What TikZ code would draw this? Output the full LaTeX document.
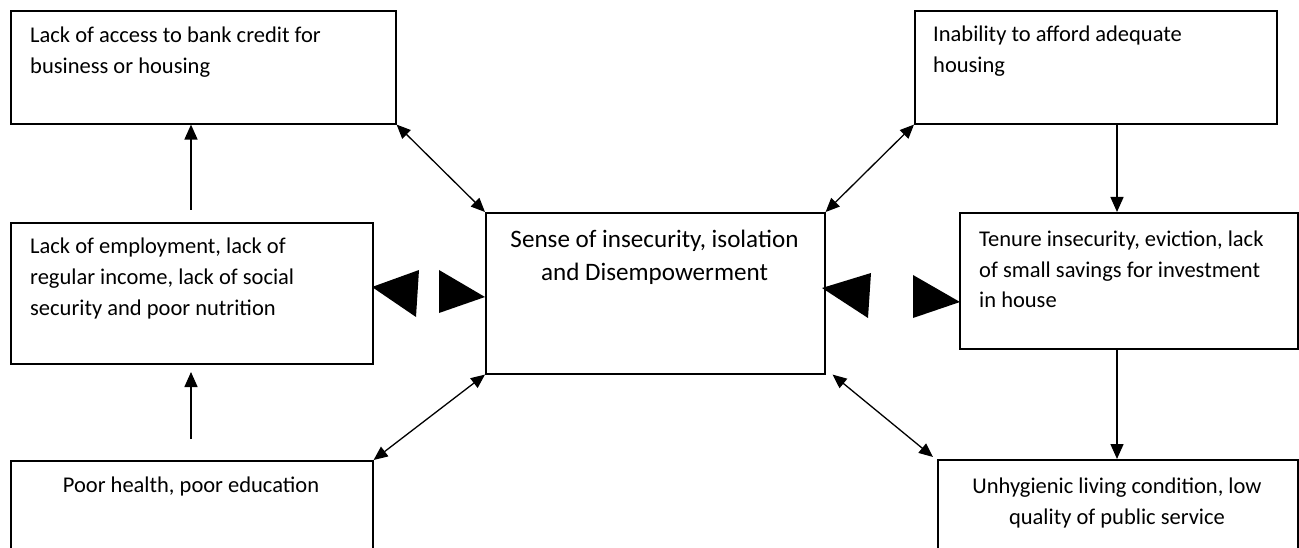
\documentclass[tikz,border=0pt]{standalone}
\usepackage{fontspec}
\setmainfont{Carlito}
\usetikzlibrary{arrows.meta,calc}
\begin{document}
\begin{tikzpicture}[x=1pt,y=-1pt,
  box/.style={draw,line width=1.6pt,inner sep=0pt,anchor=north west},
  txt/.style={inner sep=0pt,font=\fontsize{22.5}{31}\selectfont},
  bigtxt/.style={inner sep=0pt,font=\fontsize{25.1}{33}\selectfont},
  arr/.style={line width=1.5pt,-{Triangle[length=15pt,width=13pt]}},
  darr/.style={line width=1.3pt,{Triangle[length=14pt,width=12pt]}-{Triangle[length=14pt,width=12pt]}},
  wedge/.style={fill=black}]
\useasboundingbox (0,0) rectangle (1299,548);
\clip (0,0) rectangle (1299,548);

% boxes
\node[box,minimum width=385pt,minimum height=113pt] (A) at (10,10) {};
\node[box,minimum width=362pt,minimum height=141pt] (B) at (10,222) {};
\node[box,minimum width=362pt,minimum height=130pt] (C) at (10,460) {};
\node[box,minimum width=339pt,minimum height=161pt] (D) at (485,212) {};
\node[box,minimum width=338pt,minimum height=136pt] (E) at (959,212) {};
\node[box,minimum width=362pt,minimum height=113pt] (F) at (914,10) {};
\node[box,minimum width=360pt,minimum height=130pt] (G) at (937,459) {};

% box texts (placed by the baseline of their last line)
\node[txt,anchor=base west,align=left] (At) at (30,74)
  {Lack of access to bank credit for\\business or housing};
\node[txt,anchor=base west,align=left] (Bt) at (30,315)
  {Lack of employment, lack of\\regular income, lack of social\\security and poor nutrition};
\node[txt,anchor=base,align=center] (Ct) at (191,492)
  {Poor health, poor education};
\node[bigtxt,anchor=base,align=center] (Dt) at (654.5,280)
  {Sense of insecurity, isolation\\and Disempowerment};
\node[txt,anchor=base west,align=left] (Et) at (979,308)
  {Tenure insecurity, eviction, lack\\of small savings for investment\\in house};
\node[txt,anchor=base west,align=left] (Ft) at (933,73)
  {Inability to afford adequate\\housing};
\node[txt,anchor=base,align=center] (Gt) at (1117,524)
  {Unhygienic living condition, low\\quality of public service};

% vertical arrows on the left
\coordinate (p1) at (191,210);
\draw[arr] (p1) -- (A.south -| p1);
\coordinate (p2) at (191,439);
\coordinate (p3) at (191,372);
\draw[arr] (p2) -- (p3);

% vertical arrows on the right
\coordinate (q) at (1117,0);
\draw[arr] (F.south -| q) -- (E.north -| q);
\draw[arr] (E.south -| q) -- (G.north -| q);

% diagonal two-way arrows
\draw[darr] (A.south east) -- (D.north west);
\draw[darr] (F.south west) -- (D.north east);
\draw[darr] (C.north east) -- (D.south west);
\draw[darr] ($(D.south east)+(7,0)$) -- ($(G.north west)+(-4,-2)$);

% large wedge heads between the middle row boxes
\fill[wedge] (372,287) -- (419,270) -- (416,317) -- cycle;
\fill[wedge] (439,270) -- (439,313) -- (485,297) -- cycle;
\fill[wedge] (822,288) -- (871,273) -- (868,318) -- cycle;
\fill[wedge] (913,275) -- (913,318) -- (960,302) -- cycle;
\end{tikzpicture}
\end{document}
